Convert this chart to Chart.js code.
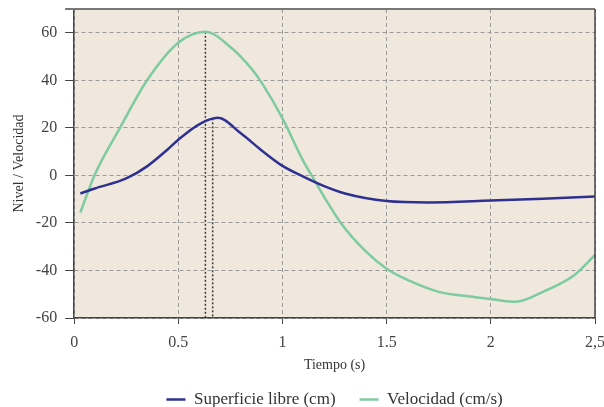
<!DOCTYPE html>
<html>
<head>
<meta charset="utf-8">
<script src="https://cdn.jsdelivr.net/npm/chart.js@4/dist/chart.umd.min.js"></script>
<style>
  html, body { margin: 0; padding: 0; background: #fff; overflow: hidden; }
  #wrap { width: 604px; height: 407px; overflow: hidden; }
  #wrap div { width: 614px; height: 407px; position: relative; }
</style>
</head>
<body>
<div id="wrap"><div><canvas id="chart"></canvas></div></div>
<script>
// tiempo (s) y valores
const tiempoNivel = [0.03, 0.1, 0.25, 0.35, 0.45, 0.5, 0.6, 0.69, 0.8, 0.9, 1.0, 1.1, 1.2, 1.3, 1.5, 1.7, 2.0, 2.25, 2.5];
const nivel = [-7.6, -5.5, -1.3, 3.8, 11, 15, 21.5, 24.2, 17.7, 10.5, 4, -0.5, -4.5, -7.6, -10.8, -11.4, -10.6, -9.8, -8.9];

const tiempoVel = [0.03, 0.1, 0.22, 0.35, 0.5, 0.63, 0.75, 0.85, 0.9, 1.0, 1.1, 1.14, 1.2, 1.28, 1.4, 1.5, 1.6, 1.75, 1.9, 2.0, 2.12, 2.25, 2.4, 2.5];
const velocidad = [-15.6, 0.5, 20, 40, 55.8, 60.4, 54, 45, 39, 24, 6, 0, -9, -20, -32, -39.3, -44, -49, -51, -52, -53.2, -49, -42, -33.5];

// maximos marcados con linea punteada
const picoVel = [0.63, 60.4];
const picoNivel = [0.665, 24];

const xTicks = ['0', '0.5', '1', '1.5', '2', '2,5'];
const yTicks = [-60, -40, -20, 0, 20, 40, 60];

const labels = ['Superficie libre (cm)', 'Velocidad (cm/s)'];
const colors = ['#2e3192', '#7ecba1'];

function toPoints(xs, ys) {
    let pts = [];
    for (let i = 0; i < xs.length; i++) {
        pts.push({x: xs[i], y: ys[i]});
    }
    return pts;
}

function dropLine(p) {
    return {
        label: '',
        data: [{x: p[0], y: p[1]}, {x: p[0], y: yTicks[0]}],
        borderColor: '#3a3a3a',
        borderWidth: 1.5,
        borderDash: [2, 2],
        pointRadius: 0,
        fill: false
    };
}

const serif = '"Liberation Serif", "DejaVu Serif", serif';

const plotBox = {
    id: 'plotBox',
    beforeDraw(chart) {
        const a = chart.chartArea;
        const ctx = chart.ctx;
        ctx.save();
        ctx.fillStyle = '#f0e8dc';
        ctx.fillRect(a.left, a.top, a.right - a.left, a.bottom - a.top);
        ctx.restore();
    },
    afterDraw(chart) {
        const a = chart.chartArea;
        const ctx = chart.ctx;
        ctx.save();
        ctx.strokeStyle = '#777';
        ctx.lineWidth = 2;
        ctx.beginPath();
        ctx.moveTo(a.left - 9, a.top);
        ctx.lineTo(a.right, a.top);
        ctx.stroke();
        ctx.strokeStyle = '#444';
        ctx.lineWidth = 1.5;
        ctx.beginPath();
        ctx.moveTo(a.right, a.top);
        ctx.lineTo(a.right, a.bottom);
        ctx.stroke();
        ctx.restore();
    }
};

const ctx = document.getElementById('chart').getContext('2d');
new Chart(ctx, {
    type: 'line',
    data: {
        datasets: [
            {
                label: labels[0],
                data: toPoints(tiempoNivel, nivel),
                borderColor: colors[0],
                backgroundColor: colors[0],
                borderWidth: 2.5,
                pointRadius: 0,
                cubicInterpolationMode: 'monotone',
                fill: false
            },
            {
                label: labels[1],
                data: toPoints(tiempoVel, velocidad),
                borderColor: colors[1],
                backgroundColor: colors[1],
                borderWidth: 2.5,
                pointRadius: 0,
                cubicInterpolationMode: 'monotone',
                fill: false
            },
            dropLine(picoVel),
            dropLine(picoNivel)
        ]
    },
    options: {
        responsive: true,
        maintainAspectRatio: false,
        animation: false,
        layout: { padding: { left: 7, top: 9, bottom: -11 } },
        plugins: {
            tooltip: { enabled: false },
            legend: {
                position: 'bottom',
                fullSize: false,
                labels: {
                    filter: item => item.text !== '',
                    usePointStyle: true,
                    pointStyle: 'line',
                    pointStyleWidth: 19,
                    color: '#333',
                    font: { family: serif, size: 17 },
                    padding: 24
                }
            }
        },
        scales: {
            x: {
                type: 'linear',
                min: 0,
                max: 2.5,
                ticks: {
                    stepSize: 0.5,
                    color: '#444',
                    font: { family: serif, size: 16 },
                    padding: 9,
                    maxRotation: 0,
                    callback: (v, i) => xTicks[i]
                },
                grid: { color: '#9a9a9a', tickColor: '#444', tickLength: 6, tickBorderDash: [] },
                border: { color: '#444', width: 1.5, dash: [4, 3] },
                title: {
                    display: true,
                    text: 'Tiempo (s)',
                    color: '#333',
                    font: { family: serif, size: 14 },
                    padding: { top: -4, bottom: -7 }
                }
            },
            y: {
                min: -60,
                max: 70,
                afterBuildTicks: axis => { axis.ticks = yTicks.map(v => ({value: v})); },
                afterFit: axis => { axis.paddingTop = 0; axis.paddingBottom = 0; },
                ticks: {
                    color: '#444',
                    font: { family: serif, size: 16 },
                    padding: 8
                },
                grid: { color: '#9a9a9a', tickColor: '#444', tickLength: 9, tickBorderDash: [] },
                border: { color: '#444', width: 1.5, dash: [4, 3] },
                title: {
                    display: true,
                    text: 'Nivel / Velocidad',
                    color: '#333',
                    font: { family: serif, size: 14 },
                    padding: { top: 4, bottom: 0 }
                }
            }
        }
    },
    plugins: [plotBox]
});
</script>
</body>
</html>
